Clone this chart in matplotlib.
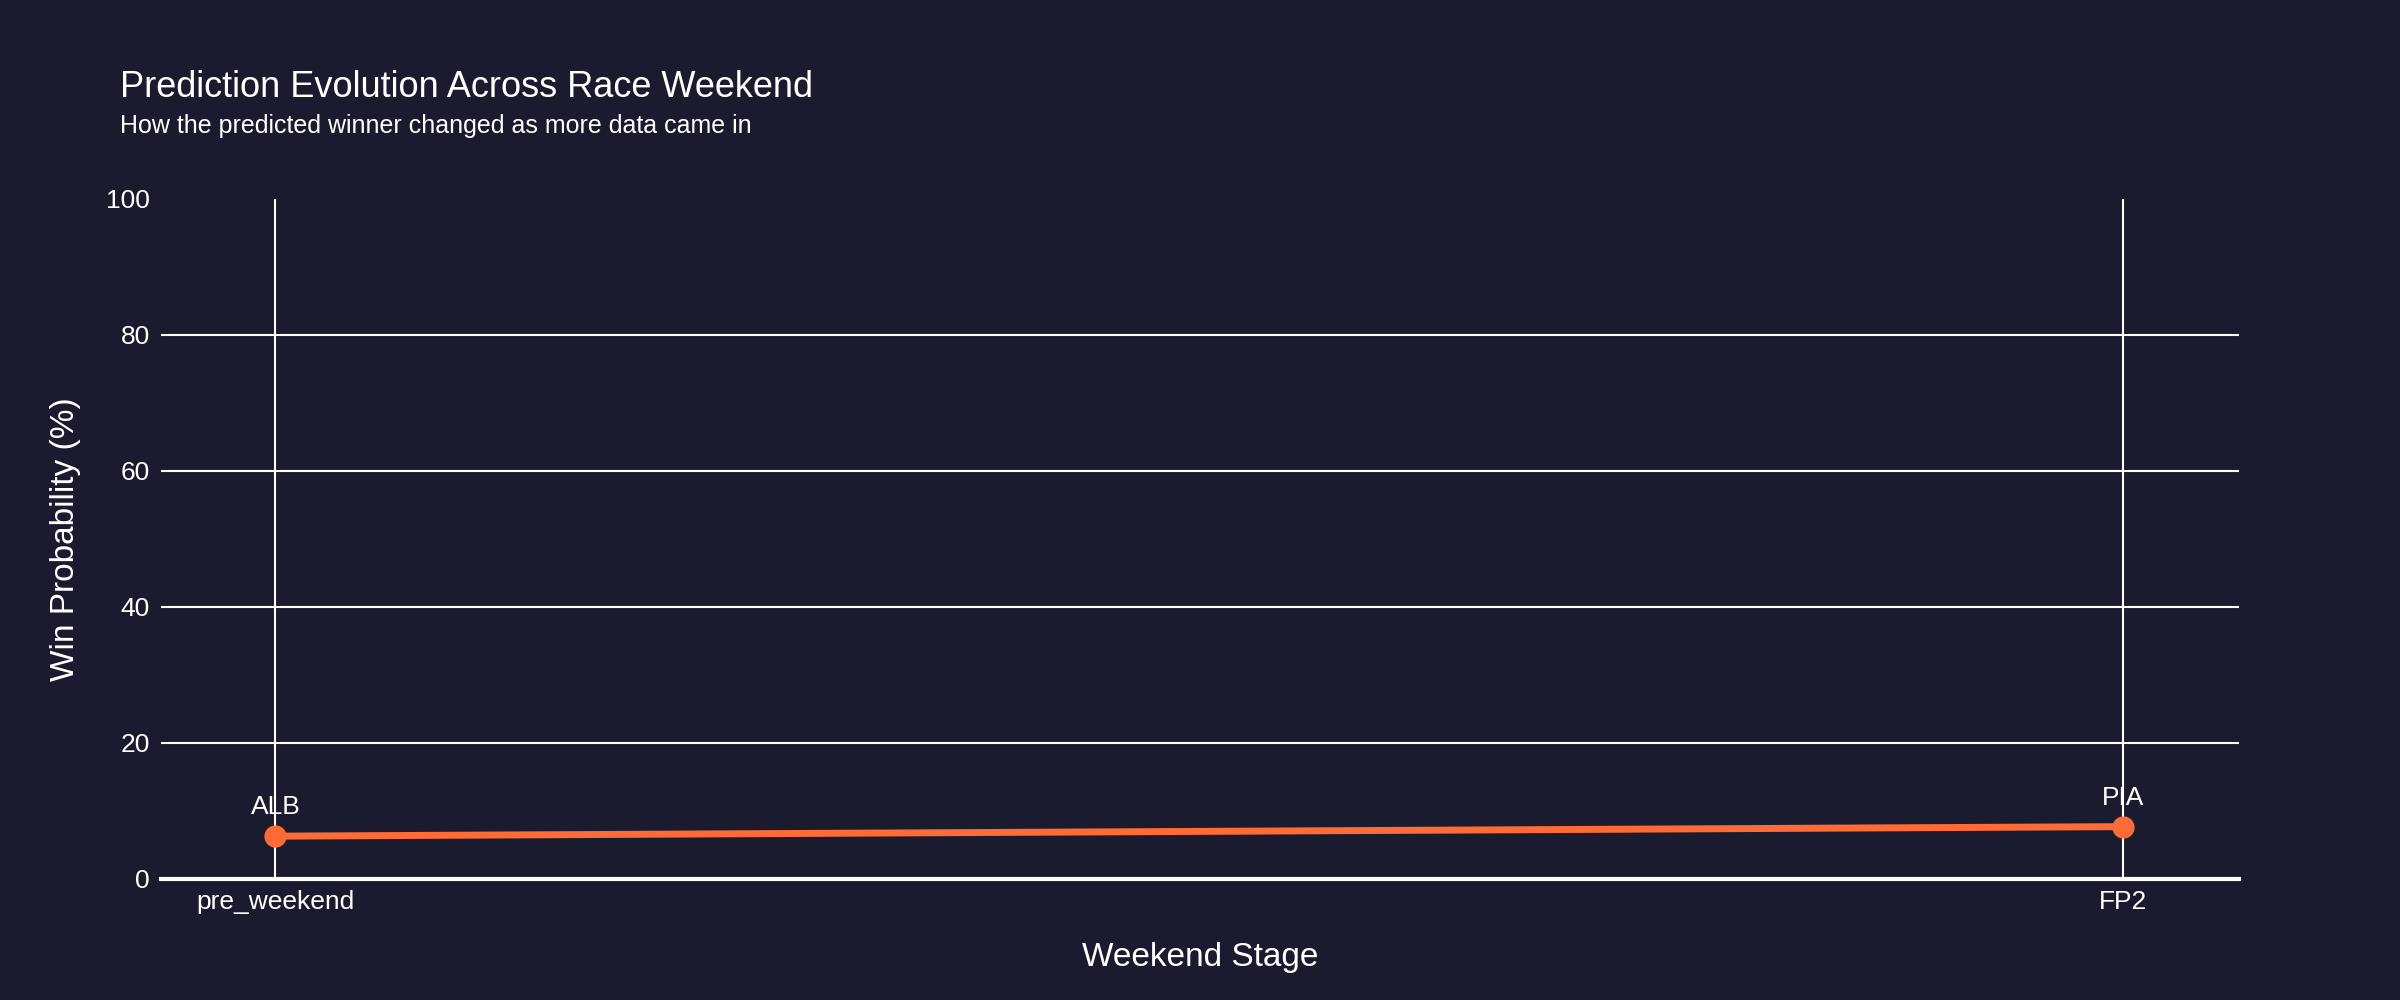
import matplotlib.pyplot as plt

# Data
stages = ['pre_weekend', 'FP2']
win_prob = [6.3, 7.7]
drivers = ['ALB', 'PIA']

bg = '#1b1b2f'
orange = '#ff6b35'

plt.rcParams['font.family'] = ['Liberation Sans', 'DejaVu Sans']

fig = plt.figure(figsize=(24, 10), dpi=100, facecolor=bg)
ax = fig.add_axes([0.067, 0.121, 0.866, 0.68], facecolor=bg)

x = list(range(len(stages)))
ax.plot(x, win_prob, color=orange, linewidth=5, marker='o', markersize=15, zorder=3)
for xi, yi, name in zip(x, win_prob, drivers):
    ax.annotate(name, (xi, yi), xytext=(0, 12), textcoords='offset points',
                ha='center', va='bottom', color='white', fontsize=19)

ax.set_xlim(-0.062, 1.063)
ax.set_ylim(0, 100)
ax.set_xticks(x)
ax.set_xticklabels(stages)
ax.set_yticks([0, 20, 40, 60, 80, 100])
ax.grid(True, color='white', linewidth=1.5, zorder=0)
ax.yaxis.get_gridlines()[-1].set_visible(False)
ax.set_axisbelow(True)
for s in ['top', 'right', 'left']:
    ax.spines[s].set_visible(False)
ax.spines['bottom'].set_color('white')
ax.spines['bottom'].set_linewidth(3)
ax.tick_params(colors='white', labelsize=19, length=0, pad=8)

ax.set_xlabel('Weekend Stage', color='white', fontsize=24, labelpad=20)
ax.set_ylabel('Win Probability (%)', color='white', fontsize=24, labelpad=18)

fig.text(0.05, 0.895, 'Prediction Evolution Across Race Weekend', color='white', fontsize=26, va='bottom')
fig.text(0.05, 0.862, 'How the predicted winner changed as more data came in', color='white', fontsize=18, va='bottom')

fig.savefig('out.png', dpi=100, facecolor=bg)
